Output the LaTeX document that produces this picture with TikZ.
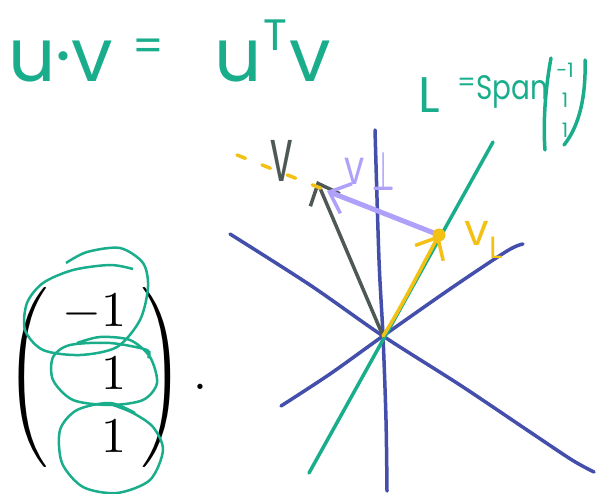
\documentclass[tikz,border=0pt]{standalone}
\usepackage{graphicx}
\usepackage{fontspec}
\usepackage{amsmath}
\newfontfamily\handfont{Poppins}
\usetikzlibrary{arrows.meta}
\definecolor{penteal}{RGB}{26,173,139}
\definecolor{penblue}{RGB}{67,79,170}
\definecolor{pengray}{RGB}{78,89,86}
\definecolor{penyellow}{RGB}{242,193,20}
\definecolor{penpurple}{RGB}{175,160,250}
\begin{document}
\begin{tikzpicture}[x=1pt, y=-1pt,
  pen/.style={line width=3.5pt, line cap=round, line join=round},
  hand/.style={font=\handfont, inner sep=0pt},
  tip/.style={-{Straight Barb[length=18pt, width=32pt, line width=3.5pt]}}]
  \useasboundingbox (0,0) rectangle (596,494);
  % the plane: origin and arrow ends
  \coordinate (O)   at (383,336);
  \coordinate (V)   at (317,181);
  \coordinate (VL)  at (439,235);
  \coordinate (Vp)  at (327,191);
  \coordinate (La)  at (493,142);
  \coordinate (Lb)  at (309,473);
  % the blue lines
  \draw[pen, penblue] plot[smooth] coordinates {(375,130) (379,260) (O) (386,420) (387,491)};
  \draw[pen, penblue] plot[smooth] coordinates {(230,234) (310,285) (O) (460,385) (530,432) (572,460) (594,472)};
  \draw[pen, penblue] plot[smooth] coordinates {(523,244) (507,251) (450,289) (O) (330,374) (281,406)};
  \draw[pen, penteal] (La) -- (Lb);
  % v and its parts
  \draw[pen, pengray, tip] (O) -- (V);
  \draw[pen, penyellow, dash pattern=on 9pt off 18pt] (237,155) -- (VL);
  \draw[pen, penpurple, line width=5pt, tip] (VL) -- (Vp);
  \draw[pen, penyellow, tip] (O) .. controls (400,310) and (420,270) .. (VL);
  \fill[penyellow] (VL) circle (6.5);
  \node[hand, pengray, font=\handfont\fontsize{50}{50}\selectfont] (vlab) at (282,161) {\scalebox{0.8}[1.5]{v}};
  \node[hand, penpurple, font=\handfont\fontsize{40}{40}\selectfont] (vplab) at (370,171) {\scalebox{0.9}[1.2]{v}\hspace{8pt}\raisebox{-6pt}{\scalebox{1}[2.2]{$\boldsymbol\perp$}}};
  \node[hand, penyellow, font=\handfont\fontsize{44}{44}\selectfont] (vllab) at (484,240) {v\textsubscript{L}};
  % the teal notes
  \node[hand, penteal, font=\handfont\fontsize{74}{74}\selectfont, anchor=base west] (uv) at (8,82) {u·v};
  \node[hand, penteal, font=\handfont\fontsize{44}{44}\selectfont] (eq) at (148,50) {=};
  \node[hand, penteal, font=\handfont\fontsize{74}{74}\selectfont, anchor=base west] (uTv) at (214,82) {u\hspace{2pt}\raisebox{0.42em}{\fontsize{44}{44}\selectfont T}\hspace{2pt}v};
  \node[hand, penteal, font=\handfont\fontsize{50}{50}\selectfont, anchor=base west] (L) at (418,113) {L};
  \node[hand, penteal, font=\handfont\fontsize{26}{26}\selectfont, anchor=base west] (spaneq) at (457,92) {=};
  \node[hand, penteal, font=\handfont\fontsize{34}{34}\selectfont, anchor=base west] (span) at (476,100) {\scalebox{0.82}[1]{Span}};
  \node[hand, penteal, font=\handfont\fontsize{20}{30}\selectfont, align=center] (spanvec) at (565,100) {-1\\1\\1};
  \draw[pen, penteal] (551,58) .. controls (545,90) and (543,125) .. (545,150);
  \draw[pen, penteal] (585,60) .. controls (586,95) and (580,125) .. (564,145);
  % the vector with its circled entries
  \node[inner sep=0pt, anchor=west] (vec) at (4,377)
    {\scalebox{5}{\setlength{\arraycolsep}{3pt}\renewcommand{\arraystretch}{1.05}$\left(\begin{array}{r}-1\\1\\1\end{array}\right).$}};
  \draw[penteal, line width=2.5pt] plot[smooth] coordinates {(66,263) (87,252) (120,248) (143,263) (148,287) (140,320) (117,347) (80,355) (43,350) (25,330) (27,303) (43,283) (73,270) (110,265) (133,269)};
  \draw[penteal, line width=2.5pt] plot[smooth] coordinates {(77,343) (100,337) (130,340) (150,357) (157,383) (143,400) (110,405) (73,400) (53,380) (53,357) (70,345) (110,343) (147,350) (148,358)};
  \draw[penteal, line width=2.5pt] plot[smooth] coordinates {(135,413) (110,403) (77,410) (60,430) (62,463) (83,487) (117,493) (150,480) (163,450) (153,427) (133,413) (113,405)};
\end{tikzpicture}
\end{document}
